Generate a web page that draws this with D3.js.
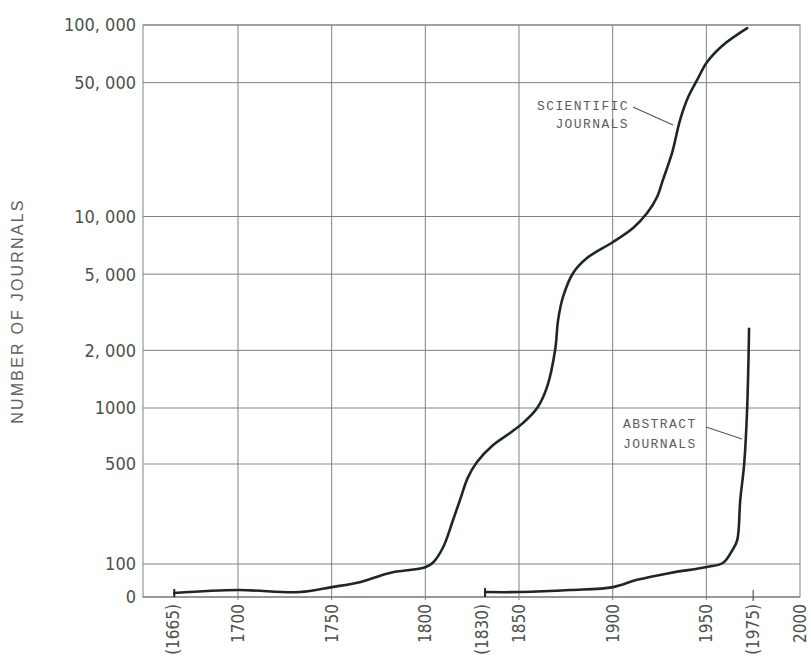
<!DOCTYPE html>
<html>
<head>
<meta charset="utf-8">
<script src="https://cdn.jsdelivr.net/npm/d3@7"></script>
<style>
	body { margin: 0; background: #fff; }
	svg { display: block; }
</style>
</head>
<body>
<div id="chart"></div>
<script>
var windowW = 811;
var windowH = 664;

//////// Data
var sciYears  = [1666, 1700, 1733, 1750, 1765, 1781, 1800, 1804, 1809.5, 1814.8, 1818.5, 1822.8, 1827.6, 1836.2, 1845.2, 1852.2, 1859.7, 1865, 1869.3, 1870.9, 1873.5, 1878.9, 1886.3, 1900.2, 1910.9, 1918.4, 1923.7, 1926.8, 1931.7, 1936, 1940.3, 1945.1, 1950.4, 1959, 1971.8];
var sciValues = [12, 21, 15, 30, 45, 73, 90, 102, 131, 203, 280, 405, 513, 632, 734, 832, 1000, 1290, 2010, 2884, 3802, 5070, 6070, 7360, 8710, 10420, 12640, 15490, 21480, 31930, 42060, 51640, 64100, 78700, 96400];

var absYears  = [1831.9, 1850.6, 1877.3, 1900.2, 1913, 1930.7, 1950.4, 1959, 1963.9, 1966.5, 1968.1, 1970.2, 1971.8, 1972.6, 1972.8];
var absValues = [15, 15, 21, 30, 52, 73, 91, 102, 125, 147, 280, 500, 1000, 2000, 2590];

var yTicks  = [0, 100, 500, 1000, 2000, 5000, 10000, 50000, 100000];
var yLabels = ["0", "100", "500", "1000", "2, 000", "5, 000", "10, 000", "50, 000", "100, 000"];

var xTicks  = [1665, 1700, 1750, 1800, 1830, 1850, 1900, 1950, 1975, 2000];
var xLabels = ["(1665)", "1700", "1750", "1800", "(1830)", "1850", "1900", "1950", "(1975)", "2000"];
var gridYears = [1700, 1750, 1800, 1850, 1900, 1950];

var lineColor = "#1c2a1e";
var gridColor = "#80837e";
var textColor = "#4b5249";

//////// Scales: hand drawn axis, linear below 100, log above (100-500 squeezed)
function tv(v) {
	return v < 100 ? v / 100 : 1 + Math.log10(v / 100);
}

var yT = d3.scaleLinear()
	.domain([0, 1, tv(500), 2, 4])
	.range([597, 564, 464, 408, 25]);

function y(v) { return yT(tv(v)); }

var x = d3.scaleLinear()
	.domain([1649.3, 2000])
	.range([143, 800]);

var svg = d3.select("#chart").append("svg")
	.attr("width", windowW)
	.attr("height", windowH);

//////// Grid
var grid = svg.append("g");

grid.selectAll(".hgrid")
	.data(yTicks.filter(d => d > 0))
	.enter().append("line")
	.attr("x1", x.range()[0])
	.attr("x2", x.range()[1])
	.attr("y1", d => y(d))
	.attr("y2", d => y(d))
	.attr("stroke", d => d == 500 ? "#b07a74" : gridColor)
	.attr("stroke-width", 1);

grid.selectAll(".vgrid")
	.data(gridYears)
	.enter().append("line")
	.attr("x1", d => x(d))
	.attr("x2", d => x(d))
	.attr("y1", y(100000))
	.attr("y2", y(0) + 3)
	.attr("stroke", gridColor)
	.attr("stroke-width", 1);

// frame
grid.append("rect")
	.attr("x", x.range()[0])
	.attr("y", y(100000))
	.attr("width", x.range()[1] - x.range()[0])
	.attr("height", y(0) - y(100000))
	.attr("fill", "none")
	.attr("stroke", gridColor)
	.attr("stroke-width", 1);

grid.append("line")
	.attr("x1", x.range()[0])
	.attr("x2", x.range()[1])
	.attr("y1", y(0))
	.attr("y2", y(0))
	.attr("stroke", "#6f726d")
	.attr("stroke-width", 1.2);

// small tick for 1975
grid.selectAll(".xtick")
	.data([1975])
	.enter().append("line")
	.attr("x1", d => x(d))
	.attr("x2", d => x(d))
	.attr("y1", y(0) - 7)
	.attr("y2", y(0) + 4)
	.attr("stroke", "#555")
	.attr("stroke-width", 1.2);

//////// Y labels
svg.append("g").selectAll("text")
	.data(yTicks)
	.enter().append("text")
	.attr("x", 136)
	.attr("y", d => y(d))
	.attr("dy", "0.36em")
	.attr("text-anchor", "end")
	.attr("fill", textColor)
	.style("font-family", "'Liberation Sans Narrow', 'DejaVu Sans Condensed', 'Roboto Condensed', sans-serif")
	.style("font-stretch", "condensed")
	.style("font-size", "18px")
	.text((d, i) => yLabels[i]);

//////// X labels
svg.append("g").selectAll("text")
	.data(xTicks)
	.enter().append("text")
	.attr("transform", d => "translate(" + x(d) + "," + 604 + ") rotate(-90)")
	.attr("dy", "0.36em")
	.attr("text-anchor", "end")
	.attr("fill", textColor)
	.style("font-family", "'Liberation Sans Narrow', 'DejaVu Sans Condensed', 'Roboto Condensed', sans-serif")
	.style("font-stretch", "condensed")
	.style("font-size", "17px")
	.text((d, i) => xLabels[i]);

//////// Y title
svg.append("text")
	.attr("transform", "translate(17,311) rotate(-90)")
	.attr("dy", "0.36em")
	.attr("text-anchor", "middle")
	.attr("fill", "#5d625b")
	.style("font-family", "'Liberation Sans', sans-serif")
	.style("font-size", "16px")
	.style("letter-spacing", "2.2px")
	.text("NUMBER OF JOURNALS");

//////// Curves
var line = d3.line()
	.x(d => x(d[0]))
	.y(d => y(d[1]))
	.curve(d3.curveCatmullRom.alpha(0.5));

function drawSeries(years, values) {
	var pts = years.map((d, i) => [d, values[i]]);

	svg.append("path")
		.datum(pts)
		.attr("d", line)
		.attr("fill", "none")
		.attr("stroke", lineColor)
		.attr("stroke-width", 2.6)
		.attr("stroke-linecap", "round");

	// pen mark at the start
	svg.append("line")
		.attr("x1", x(years[0]))
		.attr("x2", x(years[0]))
		.attr("y1", y(values[0]) - 4)
		.attr("y2", y(0))
		.attr("stroke", lineColor)
		.attr("stroke-width", 2);
}

drawSeries(sciYears, sciValues);
drawSeries(absYears, absValues);

//////// Annotations
var note = svg.append("g")
	.attr("fill", "#5a5e58")
	.style("font-family", "'Liberation Mono', 'DejaVu Sans Mono', monospace")
	.style("font-size", "13px")
	.style("letter-spacing", "1.4px");

note.append("text").attr("x", 629).attr("y", 110).attr("text-anchor", "end").text("SCIENTIFIC");
note.append("text").attr("x", 629).attr("y", 128).attr("text-anchor", "end").text("JOURNALS");
note.append("text").attr("x", 623).attr("y", 428).text("ABSTRACT");
note.append("text").attr("x", 623).attr("y", 448).text("JOURNALS");

svg.append("line")
	.attr("x1", 633).attr("y1", 107).attr("x2", 673).attr("y2", 125)
	.attr("stroke", "#555").attr("stroke-width", 1.2);

svg.append("line")
	.attr("x1", 706).attr("y1", 427).attr("x2", 742).attr("y2", 439)
	.attr("stroke", "#555").attr("stroke-width", 1.2);
</script>
</body>
</html>
